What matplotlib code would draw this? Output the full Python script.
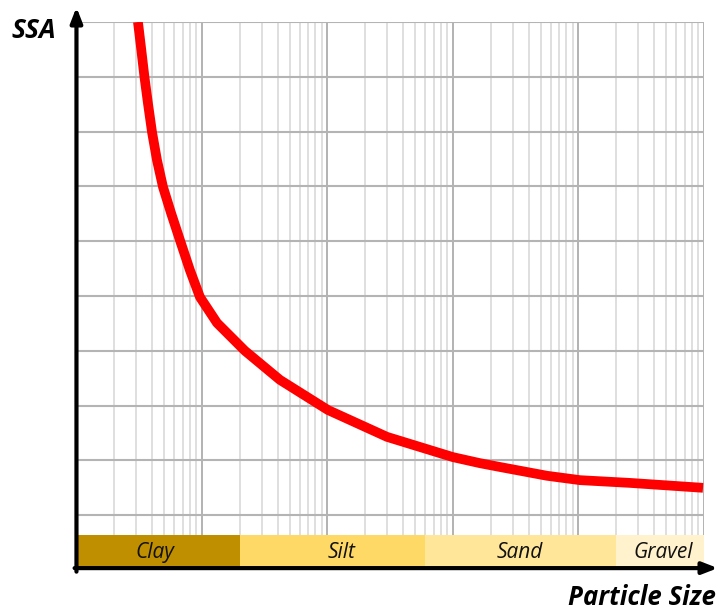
import numpy as np
import matplotlib
matplotlib.use("Agg")
import matplotlib.pyplot as plt

# particle size (um) vs specific surface area (arbitrary units)
size_um = [0.309, 0.327, 0.348, 0.371, 0.400, 0.438, 0.489, 0.566, 0.674,
           0.802, 0.964, 1.317, 2.20, 4.18, 10.09, 29.8, 100, 164, 237,
           561, 1028, 2570, 9820]
ssa = [10.0, 9.53, 9.0, 8.52, 7.99, 7.48, 6.99, 6.52, 5.99,
       5.47, 4.98, 4.51, 4.0, 3.47, 2.92, 2.43, 2.06, 1.95, 1.88,
       1.72, 1.64, 1.59, 1.50]

classes = ["Clay", "Silt", "Sand", "Gravel"]
class_edges = [0.1, 2, 60, 2000, 10000]
class_colors = ["#BF8F00", "#FFD966", "#FFE699", "#FFF2CC"]
label_pos = [0.42, 13, 342, 4700]

plt.rcParams["font.family"] = ["Open Sans", "DejaVu Sans"]

fig = plt.figure(figsize=(7.18, 6.13), dpi=100)
ax = fig.add_axes([0.1065, 0.0701, 0.874, 0.894])
ax.set_xscale("log")
ax.set_xlim(0.1, 10000)
ax.set_ylim(0, 10)

# grid
ax.set_yticks(np.arange(1, 11))
ax.grid(which="major", axis="x", color="#A6A6A6", lw=1.2, zorder=1)
ax.grid(which="minor", axis="x", color="#D9D9D9", lw=1.2, zorder=1)
ax.grid(which="major", axis="y", color="#B4B4B4", lw=1.5, zorder=1)
ax.tick_params(which="both", length=0, labelbottom=False, labelleft=False)
for s in ax.spines.values():
    s.set_visible(False)

# soil classes band
band_top = 0.64
for i, name in enumerate(classes):
    ax.axvspan(class_edges[i], class_edges[i + 1], ymin=0, ymax=band_top / 10,
               color=class_colors[i], lw=0, zorder=2)
    ax.text(label_pos[i], band_top / 2, name, ha="center", va="center",
            fontsize=15, style="italic", color="#111111", zorder=3)

ax.plot(size_um, ssa, color="red", lw=7, solid_capstyle="butt",
        solid_joinstyle="round", zorder=4)

# axis arrows
arrow = dict(arrowstyle="-|>,head_length=0.9,head_width=0.35", color="black",
             lw=3, shrinkA=0, shrinkB=0)
ax.annotate("", xy=(0, 1.027), xytext=(0, -0.003), xycoords="axes fraction",
            arrowprops=arrow, annotation_clip=False)
ax.annotate("", xy=(1.022, 0.0035), xytext=(-0.003, 0.0035), xycoords="axes fraction",
            arrowprops=arrow, annotation_clip=False)

fig.text(0.016, 0.951, "SSA", fontsize=19, weight="bold", style="italic", va="center")
fig.text(0.997, 0.025, "Particle Size", fontsize=18.5, weight="bold", style="italic",
         ha="right", va="center")

fig.savefig("out.png", dpi=100)
